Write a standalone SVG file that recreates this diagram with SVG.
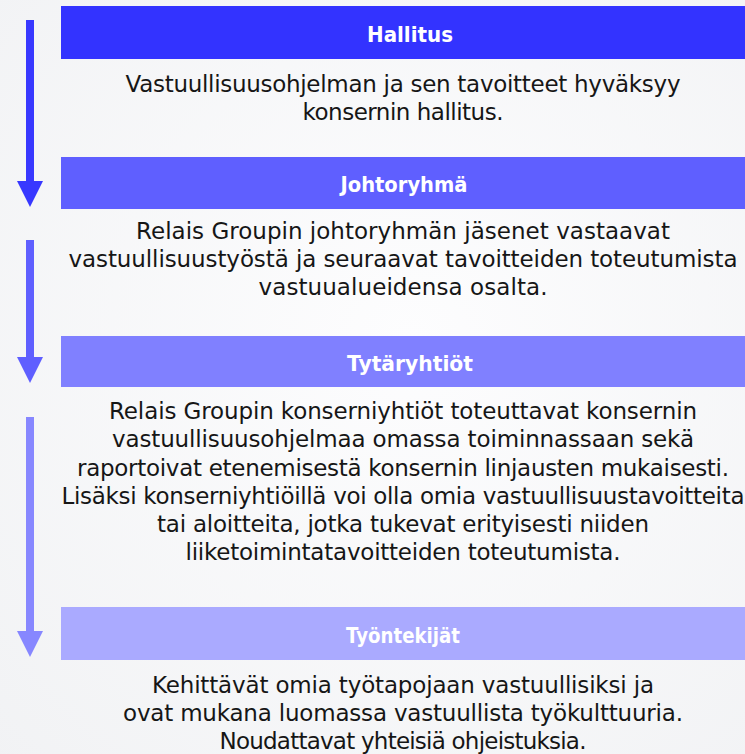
<svg xmlns="http://www.w3.org/2000/svg" width="745" height="754" viewBox="0 0 745 754">
<style>
.hdr{font-family:"DejaVu Sans","Liberation Sans",sans-serif;font-weight:bold;font-size:21px;fill:#ffffff;text-anchor:middle}
.body{font-family:"DejaVu Sans","Liberation Sans",sans-serif;font-size:23px;fill:#161616;text-anchor:middle}
</style>
<defs>
<radialGradient id="bg" cx="0.55" cy="0.45" r="0.8">
<stop offset="0" stop-color="#fdfdfe"/>
<stop offset="1" stop-color="#f1f2f4"/>
</radialGradient>
<marker id="ah1" markerUnits="userSpaceOnUse" markerWidth="26" markerHeight="26" refX="0" refY="13" orient="auto" viewBox="0 0 26 26"><path d="M0,0 L26,13 L0,26 Z" fill="#3838ff"/></marker>
<marker id="ah2" markerUnits="userSpaceOnUse" markerWidth="26" markerHeight="26" refX="0" refY="13" orient="auto" viewBox="0 0 26 26"><path d="M0,0 L26,13 L0,26 Z" fill="#5f5fff"/></marker>
<marker id="ah3" markerUnits="userSpaceOnUse" markerWidth="26" markerHeight="26" refX="0" refY="13" orient="auto" viewBox="0 0 26 26"><path d="M0,0 L26,13 L0,26 Z" fill="#8787ff"/></marker>
</defs>
<rect x="0" y="0" width="745" height="754" fill="url(#bg)"/>
<g id="connectors" fill="none" stroke-width="8">
<path d="M30,20 V181" stroke="#3838ff" marker-end="url(#ah1)"/>
<path d="M30,240 V357" stroke="#5f5fff" marker-end="url(#ah2)"/>
<path d="M30,417 V631" stroke="#8787ff" marker-end="url(#ah3)"/>
</g>
<g id="hallitus">
<rect x="61" y="6" width="684" height="53" fill="#3333ff"/>
<text class="hdr" x="410" y="42" textLength="86" lengthAdjust="spacingAndGlyphs">Hallitus</text>
<text class="body" x="403" y="92" textLength="555" lengthAdjust="spacing">Vastuullisuusohjelman ja sen tavoitteet hyväksyy</text>
<text class="body" x="403" y="120" textLength="201" lengthAdjust="spacing">konsernin hallitus.</text>
</g>
<g id="johtoryhma">
<rect x="61" y="157" width="684" height="52" fill="#5f5fff"/>
<text class="hdr" x="404" y="192" textLength="127" lengthAdjust="spacingAndGlyphs">Johtoryhmä</text>
<text class="body" x="403" y="239" textLength="534" lengthAdjust="spacing">Relais Groupin johtoryhmän jäsenet vastaavat</text>
<text class="body" x="403" y="267" textLength="669" lengthAdjust="spacing">vastuullisuustyöstä ja seuraavat tavoitteiden toteutumista</text>
<text class="body" x="403" y="295" textLength="289" lengthAdjust="spacing">vastuualueidensa osalta.</text>
</g>
<g id="tytaryhtiot">
<rect x="61" y="336" width="684" height="51" fill="#8080ff"/>
<text class="hdr" x="410" y="371" textLength="126" lengthAdjust="spacingAndGlyphs">Tytäryhtiöt</text>
<text class="body" x="403" y="419" textLength="588" lengthAdjust="spacing">Relais Groupin konserniyhtiöt toteuttavat konsernin</text>
<text class="body" x="403" y="447" textLength="582" lengthAdjust="spacing">vastuullisuusohjelmaa omassa toiminnassaan sekä</text>
<text class="body" x="403" y="476" textLength="652" lengthAdjust="spacing">raportoivat etenemisestä konsernin linjausten mukaisesti.</text>
<text class="body" x="403" y="504" textLength="683" lengthAdjust="spacing">Lisäksi konserniyhtiöillä voi olla omia vastuullisuustavoitteita</text>
<text class="body" x="403" y="532" textLength="492" lengthAdjust="spacing">tai aloitteita, jotka tukevat erityisesti niiden</text>
<text class="body" x="403" y="560" textLength="435" lengthAdjust="spacing">liiketoimintatavoitteiden toteutumista.</text>
</g>
<g id="tyontekijat">
<rect x="61" y="607" width="684" height="53" fill="#aaaaff"/>
<text class="hdr" x="403" y="643" textLength="114" lengthAdjust="spacingAndGlyphs">Työntekijät</text>
<text class="body" x="403" y="693" textLength="502" lengthAdjust="spacing">Kehittävät omia työtapojaan vastuullisiksi ja</text>
<text class="body" x="403" y="721" textLength="560" lengthAdjust="spacing">ovat mukana luomassa vastuullista työkulttuuria.</text>
<text class="body" x="403" y="749" textLength="367" lengthAdjust="spacing">Noudattavat yhteisiä ohjeistuksia.</text>
</g>
</svg>
